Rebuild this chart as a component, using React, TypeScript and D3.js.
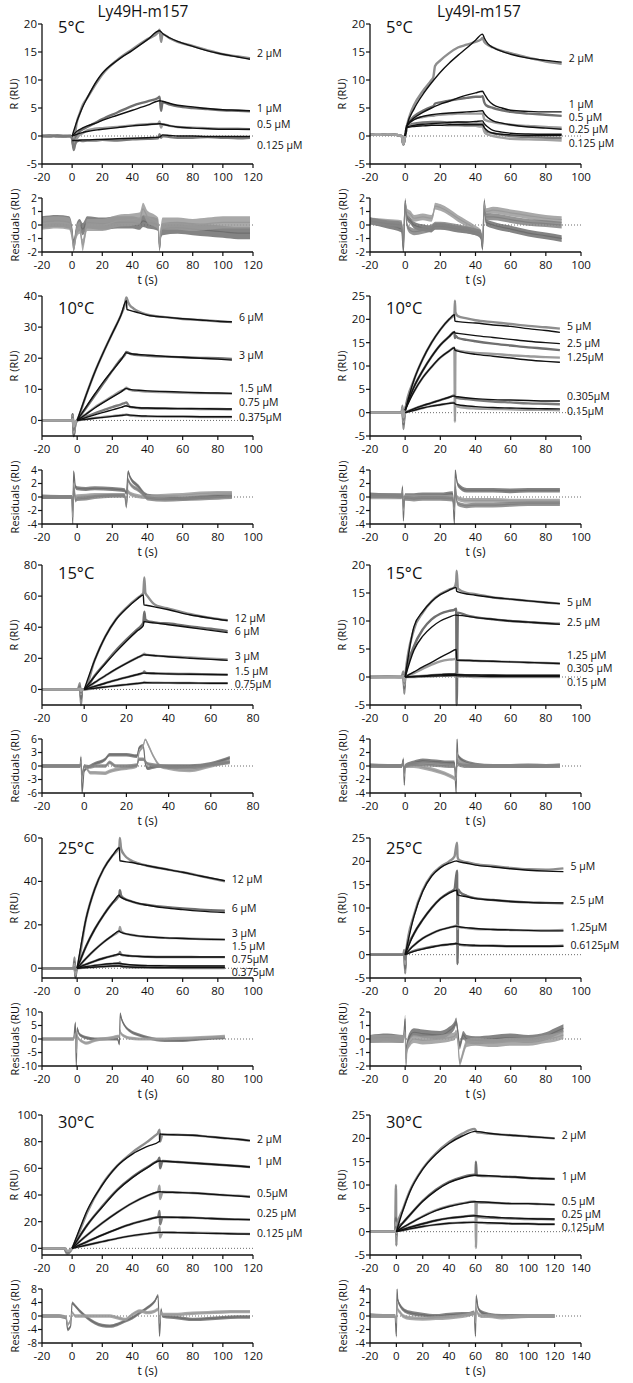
import React from 'react';
import * as d3 from 'd3';

const FONT = "'Open Sans', 'Liberation Sans', sans-serif";

// ---------- tick labels ----------
const X_TICKS_120 = [-20, 0, 20, 40, 60, 80, 100, 120];
const X_TICKS_100 = [-20, 0, 20, 40, 60, 80, 100];
const X_TICKS_80 = [-20, 0, 20, 40, 60, 80];
const X_TICKS_140 = [-20, 0, 20, 40, 60, 80, 100, 120, 140];
const Y_TICKS_20 = [-5, 0, 5, 10, 15, 20];
const Y_TICKS_25 = [-5, 0, 5, 10, 15, 20, 25];
const Y_TICKS_40 = [0, 10, 20, 30, 40];
const Y_TICKS_80 = [0, 20, 40, 60, 80];
const Y_TICKS_60 = [0, 20, 40, 60];
const Y_TICKS_100 = [0, 20, 40, 60, 80, 100];
const R_TICKS_2 = [-2, -1, 0, 1, 2];
const R_TICKS_4 = [-4, -2, 0, 2, 4];
const R_TICKS_6 = [-6, -3, 0, 3, 6];
const R_TICKS_10 = [-10, -5, 0, 5, 10];
const R_TICKS_8 = [-8, -4, 0, 4, 8];

const TITLES = ['Ly49H-m157', 'Ly49I-m157'];
const TEMPS = ['5°C', '10°C', '15°C', '25°C', '30°C'];

// ---------- Ly49H 5°C ----------
const A1_FIT_T = [0, 3, 6.7, 10, 16.7, 20, 30, 40, 50, 58, 60, 65, 70, 80, 90, 100, 110, 118];
const A1_FIT_2 = [0, 2.5, 5, 6.8, 10, 11.2, 13.5, 15.3, 17.2, 18.8, 18.3, 17.5, 16.9, 16.0, 15.2, 14.6, 14.1, 13.7];
const A1_FIT_1 = [0, 0.8, 1.4, 1.8, 2.4, 2.8, 3.7, 4.6, 5.5, 6.3, 6.2, 5.8, 5.5, 5.2, 4.9, 4.7, 4.6, 4.5];
const A1_FIT_05 = [0, 0.3, 0.6, 0.8, 1.1, 1.2, 1.5, 1.8, 2.0, 2.2, 2.1, 1.8, 1.6, 1.4, 1.3, 1.2, 1.2, 1.2];
const A1_FIT_0125 = [-0.8, -0.8, -0.7, -0.7, -0.6, -0.6, -0.5, -0.4, -0.3, -0.2, 0.2, 0.1, 0, 0, -0.1, -0.1, -0.1, -0.1];
const A1_DATA_T = [-20, -15, -10, -5, -1, 0, 1, 2, 3, 5, 7, 10, 15, 20, 30, 40, 50, 57, 58, 59, 60, 65, 70, 80, 90, 100, 110, 118];
const A1_DATA_2 = [0, 0.1, -0.1, 0, 0, -0.3, -1.5, 0.5, 2.3, 4, 5.5, 6.8, 9, 11, 13.6, 15.5, 17.3, 18.5, 19, 16.8, 18.2, 17.4, 16.8, 16.1, 15.3, 14.6, 14.2, 13.9];
const A1_DATA_1 = [0, 0.1, 0, -0.1, 0, -0.5, -2, -1, 0, 0.8, 1.2, 1.6, 2.3, 3.0, 4.2, 5.4, 6.2, 6.8, 7.0, 4.5, 6.0, 5.6, 5.3, 5.0, 4.8, 4.6, 4.5, 4.4];
const A1_DATA_05 = [0, 0, 0.1, 0, 0, -0.3, -1.8, -1, -0.5, 0.2, 0.5, 1, 1.3, 1.4, 1.6, 1.9, 2.1, 2.2, 2.6, 1.5, 2.1, 1.8, 1.6, 1.5, 1.4, 1.3, 1.3, 1.2];
const A1_DATA_0125 = [0, -0.1, 0.1, 0, 0, -0.5, -2.5, -1.5, -1, -0.8, -0.9, -0.8, -0.8, -0.7, -0.8, -0.6, -0.5, -0.4, 0.3, -0.3, 0, -0.2, -0.3, -0.3, -0.2, -0.3, -0.4, -0.3];
const A1_RES_T = [-20, -10, -2, 0, 1, 3, 5, 7, 10, 20, 30, 40, 45, 47, 50, 55, 57, 58, 59, 60, 70, 80, 90, 100, 110, 118];
const A1_RES_A = [0.2, 0.3, 0.2, -0.5, -1.5, -0.3, 0, -0.3, 0.2, 0.1, 0.2, 0.2, 0.1, 0.3, 0.2, 0.1, 0, -1.8, -0.5, -0.3, -0.2, -0.3, -0.4, -0.5, -0.6, -0.6];
const A1_RES_B = [0.1, 0.2, 0.1, -0.8, -1.8, -0.5, -0.2, -1.5, 0, 0, 0.3, 0.4, 0.5, 1.2, 0.6, 0.3, 0.1, -1.5, -0.4, 0.1, 0.1, 0, 0.1, 0.2, 0.2, 0.2];
const A1_LABELS = ['2 µM', '1 µM', '0.5 µM', '0.125 µM'];
const A1_LABEL_Y = [14.8, 5.0, 2.0, -1.7];

// ---------- Ly49I 5°C ----------
const B1_FIT_T = [0, 1, 5, 10, 15, 20, 25, 30, 35, 40, 44, 45, 47, 50, 55, 60, 70, 80, 89];
const B1_FIT_2 = [0, 1.8, 4.8, 7.4, 9.5, 11.4, 13, 14.4, 15.7, 17.1, 18.2, 17.5, 16.5, 15.8, 15.1, 14.6, 13.9, 13.5, 13.2];
const B1_FIT_1 = [0, 1.8, 3.2, 4.2, 5, 5.7, 6.2, 6.8, 7.3, 7.7, 8.0, 7.5, 6.5, 5.6, 5.0, 4.6, 4.4, 4.3, 4.3];
const B1_FIT_05 = [0, 1.8, 2.9, 3.5, 3.8, 4.0, 4.1, 4.2, 4.3, 4.4, 4.5, 4.0, 3.3, 2.7, 2.3, 2.0, 1.6, 1.4, 1.2];
const B1_FIT_025 = [0, 1.6, 1.9, 2.1, 2.2, 2.3, 2.4, 2.5, 2.5, 2.6, 2.7, 2.2, 1.6, 1.0, 0.7, 0.5, 0.35, 0.3, 0.3];
const B1_FIT_0125 = [0, 1.5, 1.7, 1.8, 1.9, 1.9, 2.0, 2.0, 2.0, 2.0, 2.0, 1.5, 0.9, 0.5, 0.3, 0.2, 0.1, 0.1, 0.1];
const B1_DATA_T = [-20, -15, -10, -5, -2, -1, 0, 1, 3, 5, 10, 15, 16, 17, 20, 25, 30, 35, 40, 43, 44, 45, 46, 50, 55, 60, 70, 80, 89];
const B1_DATA_2 = [0.3, 0.2, 0.3, 0.2, 0, -1.5, 0, 1.8, 4, 5.5, 8, 10, 10.5, 12.5, 13.5, 14.8, 15.8, 16.3, 16.8, 17.2, 17.5, 16.8, 16.5, 15.8, 15.2, 14.8, 14, 13.3, 12.9];
const B1_DATA_1 = [0.3, 0.2, 0.3, 0.2, 0, -1.5, 0, 1.8, 2.8, 3.5, 4.5, 5.2, 5.3, 5.8, 6.0, 6.3, 6.6, 6.8, 7.0, 7.0, 7.1, 6.0, 5.5, 5.0, 4.6, 4.3, 4.0, 3.8, 3.6];
const B1_DATA_05 = [0.3, 0.2, 0.3, 0.2, 0, -1.5, 0, 1.8, 2.5, 3, 3.4, 3.6, 3.6, 3.7, 3.8, 3.9, 4.0, 4.0, 4.0, 4.0, 4.0, 3.0, 2.8, 2.5, 2.2, 2.0, 1.8, 1.6, 1.5];
const B1_DATA_025 = [0.3, 0.2, 0.3, 0.2, 0, -1.5, 0, 1.6, 2.0, 2.2, 2.4, 2.5, 2.5, 2.5, 2.5, 2.4, 2.4, 2.3, 2.2, 2.2, 2.2, 1.2, 0.8, 0.5, 0.2, 0, -0.2, -0.3, -0.4];
const B1_DATA_0125 = [0.3, 0.2, 0.3, 0.2, 0, -1.5, 0, 1.5, 1.8, 1.9, 2.0, 2.0, 2.0, 2.0, 2.0, 1.9, 1.9, 1.8, 1.8, 1.7, 1.7, 0.8, 0.4, 0, -0.3, -0.5, -0.6, -0.7, -0.8];
const B1_RES_T = [-20, -10, -2, -1, 0, 1, 3, 5, 10, 15, 16, 17, 20, 30, 40, 43, 44, 45, 46, 50, 60, 70, 80, 89];
const B1_RES_A = [0.3, 0, -0.3, -2, 1.8, 0.6, 0.3, 0, -0.2, -0.3, -0.2, -0.1, -0.1, -0.3, -0.5, -0.8, -1.8, 1.8, 0.2, 0, -0.3, -0.6, -0.8, -1.0];
const B1_RES_B = [0.3, 0.2, 0.1, -1, 1.5, 1.0, 0.8, 0.5, 0.6, 0.5, 0.8, 1.4, 1.3, 0.5, -0.3, -0.6, -1.2, 1.5, 1.0, 1.1, 0.9, 0.7, 0.5, 0.4];
const B1_RES_C = [0.3, 0.1, 0, -1.5, 1.5, 0, -0.4, -0.5, -0.4, -0.2, -0.1, 0, 0, -0.2, -0.5, -0.6, -1.5, 1.0, 0.6, 0.6, 0.4, 0.2, 0.1, 0];
const B1_LABELS = ['2 µM', '1 µM', '0.5 µM', '0.25 µM', '0.125 µM'];
const B1_LABEL_Y = [13.9, 5.6, 3.4, 1.2, -1.3];

// ---------- Ly49H 10°C ----------
const A2_FIT_T = [0, 5, 10, 15, 20, 25, 28, 28.3, 30, 35, 40, 50, 60, 70, 80, 88];
const A2_FIT_6 = [0, 8, 15.5, 22, 28, 34, 38.5, 35.7, 35.4, 34.6, 33.8, 33.2, 32.7, 32.3, 31.9, 31.7];
const A2_FIT_3 = [0, 4.3, 8.5, 12.5, 16, 19.5, 21.8, 21.7, 21.5, 21.2, 21.0, 20.6, 20.3, 20, 19.7, 19.4];
const A2_FIT_15 = [0, 2, 4, 5.8, 7.5, 9.2, 10.3, 10.2, 10, 9.7, 9.5, 9.3, 9.1, 8.9, 8.8, 8.7];
const A2_FIT_075 = [0, 0.9, 1.8, 2.6, 3.4, 4.2, 4.7, 4.6, 4.4, 4.1, 4.0, 3.9, 3.8, 3.8, 3.7, 3.7];
const A2_FIT_0375 = [0, 0.35, 0.7, 1.0, 1.3, 1.6, 1.8, 1.8, 1.7, 1.5, 1.4, 1.3, 1.3, 1.2, 1.2, 1.2];
const A2_DATA_T = [-20, -10, -4, -3, -2.5, -2, -1, 0, 5, 10, 15, 20, 25, 27, 28, 29, 30, 32, 35, 40, 50, 60, 70, 80, 88];
const A2_DATA_6 = [0, 0, 0, 0, 2, -5, -1, 0, 8, 15.5, 22, 28, 34, 37, 39.5, 38, 37, 36, 35, 34, 33.2, 32.6, 32.3, 31.9, 31.6];
const A2_DATA_3 = [0, 0, 0, 0, 2, -5, -1, 0, 4, 8, 12, 16, 19.8, 21, 22, 21.8, 21.5, 21.2, 21, 20.8, 20.5, 20.3, 20.1, 20, 19.8];
const A2_DATA_15 = [0, 0, 0, 0, 1.5, -4, -1, 0, 2, 4.2, 6, 7.8, 9.5, 10, 10.5, 10.2, 9.8, 9.6, 9.5, 9.3, 9.1, 8.9, 8.8, 8.7, 8.6];
const A2_DATA_075 = [0, 0, 0, 0, 1, -3, -0.5, 0, 1.2, 2.3, 3.3, 4.3, 5.2, 5.6, 5.8, 5.0, 4.4, 4.2, 4.0, 3.9, 3.8, 3.8, 3.7, 3.7, 3.6];
const A2_DATA_0375 = [0, 0, 0, 0, 0.5, -2, -0.5, 0, 0.4, 0.8, 1.1, 1.4, 1.7, 1.8, 1.9, 1.8, 1.6, 1.5, 1.4, 1.3, 1.2, 1.2, 1.1, 1.1, 1.1];
const A2_RES_T = [-20, -10, -3, -2.5, -2, -1, 0, 5, 10, 20, 27, 28, 29, 30, 35, 38, 40, 50, 60, 70, 80, 88];
const A2_RES_A = [0, 0, 0, -4, 3.8, 1.5, 1.3, 1.2, 1.3, 1.2, 1.0, 0.5, 3.8, 3, 1.5, 0.5, 0.2, 0, -0.2, 0, 0.2, 0.3];
const A2_RES_B = [0.1, 0, 0, -3, 2, 0, 0.1, 0.2, 0.3, 0.3, 0.3, -1, 0.8, 0.5, 0.1, 0, 0, 0.2, 0.3, 0.5, 0.6, 0.6];
const A2_RES_C = [0, 0, 0, -2, 1.5, -0.5, -0.3, -0.2, 0, 0.2, 0.2, -1.5, 2.5, 2, 1, 0.3, -0.2, -0.4, -0.3, -0.2, -0.1, 0];
const A2_LABELS = ['6 µM', '3 µM', '1.5 µM', '0.75 µM', '0.375µM'];
const A2_LABEL_Y = [33, 21, 10.2, 5.8, 1.0];

// ---------- Ly49I 10°C ----------
const B2_FIT_T = [0, 5, 10, 15, 20, 25, 28, 28.3, 30, 40, 50, 60, 70, 80, 88];
const B2_FIT_5 = [0.5, 7, 11.5, 15, 17.8, 20, 21, 19.6, 19.5, 19.2, 18.8, 18.5, 18.0, 17.6, 17.2];
const B2_FIT_25 = [0.5, 5.5, 9, 12, 14.5, 16.3, 17.3, 17.1, 17.0, 16.5, 16.1, 15.7, 15.3, 15.0, 14.8];
const B2_FIT_125 = [0.5, 4.5, 7.5, 9.8, 11.8, 13.2, 13.9, 13.4, 13.2, 12.5, 12.1, 11.7, 11.3, 11.0, 10.8];
const B2_FIT_0305 = [0, 0.8, 1.5, 2.1, 2.7, 3.3, 3.6, 3.5, 3.4, 3.0, 2.8, 2.7, 2.6, 2.5, 2.5];
const B2_FIT_015 = [0, 0.5, 1.0, 1.4, 1.7, 2.0, 2.1, 1.9, 1.7, 1.3, 1.1, 1.0, 0.9, 0.85, 0.8];
const B2_DATA_T = [-20, -10, -2, -1.5, -1, -0.5, 0, 5, 10, 15, 20, 25, 28, 28.3, 28.6, 30, 35, 40, 50, 60, 70, 80, 88];
const B2_DATA_5 = [0, 0, 0, 1.5, -3.5, -1, 0.5, 7, 11.5, 15, 17.8, 20, 21, 24, 21.5, 20.7, 20.2, 19.8, 19.4, 19.0, 18.6, 18.3, 18.0];
const B2_DATA_25 = [0, 0, 0, 1, -2.5, -1, 0.5, 5.5, 9, 12, 14.5, 16.3, 17.3, 16, 16.5, 16, 15.6, 15.3, 14.8, 14.4, 14, 13.7, 13.4];
const B2_DATA_125 = [0, 0, 0, 1, -2, -0.5, 0.5, 4.5, 7.5, 9.8, 11.8, 13.2, 14, -2, 13.5, 13.3, 13, 12.8, 12.6, 12.3, 12.1, 11.9, 11.8];
const B2_DATA_0305 = [0, 0, 0, 0.5, -1.5, -0.5, 0, 0.8, 1.5, 2.1, 2.7, 3.3, 3.7, 3.5, 3.3, 3.1, 2.9, 2.7, 2.4, 2.2, 2.0, 1.9, 1.8];
const B2_DATA_015 = [0, 0, 0, 0.5, -1, -0.5, 0, 0.5, 1.0, 1.4, 1.7, 2.0, 2.2, 1.9, 1.6, 1.3, 1.0, 0.9, 0.8, 0.7, 0.6, 0.6, 0.5];
const B2_RES_T = [-20, -10, -2, -1.5, -1, -0.5, 0, 5, 10, 20, 27, 28, 28.5, 29, 30, 35, 40, 50, 60, 70, 80, 88];
const B2_RES_A = [0.3, 0.2, 0.2, 1.5, -3.5, -0.5, 0.2, 0.2, 0.3, 0.3, 0.5, -4, 4, 3, 1.8, 1.0, 1.0, 1.0, 0.9, 1.0, 1.0, 1.0];
const B2_RES_B = [0, 0, 0, 0.8, -2, -0.5, 0, 0, 0, 0, 0, -2, 2, 0.5, -0.2, -0.5, -0.5, -0.5, -0.6, -0.6, -0.6, -0.6];
const B2_RES_C = [0.2, 0.2, 0.1, 0.5, -1.5, -0.5, -0.2, -0.3, -0.2, -0.2, -0.3, -1.5, 1.5, 0, -1, -1.3, -1.2, -1.2, -1.1, -1.0, -1.0, -1.0];
const B2_LABELS = ['5 µM', '2.5 µM', '1.25µM', '0.305µM', '0.15µM'];
const B2_LABEL_Y = [18.4, 14.8, 11.9, 3.4, 0.3];

// ---------- Ly49H 15°C ----------
const A3_FIT_T = [0, 5, 10, 15, 20, 25, 28, 28.3, 30, 35, 40, 50, 60, 68];
const A3_FIT_12 = [0, 19, 34, 44.8, 52, 58, 60.8, 54.4, 54, 52.6, 51.2, 48, 45.8, 44.3];
const A3_FIT_6 = [0, 8.5, 16.5, 24, 31, 37.5, 41, 43.7, 43.3, 42.5, 41.6, 39.8, 38, 36.5];
const A3_FIT_3 = [0, 4.5, 8.8, 13, 16.8, 20.3, 22.2, 22.3, 22.1, 21.6, 21, 20.1, 19.3, 18.7];
const A3_FIT_15 = [0, 2, 4, 6, 7.8, 9.5, 10.5, 10.5, 10.4, 10.2, 10, 9.8, 9.6, 9.4];
const A3_FIT_075 = [0, 0.8, 1.6, 2.4, 3.1, 3.8, 4.3, 4.3, 4.3, 4.2, 4.2, 4.1, 4.0, 4.0];
const A3_DATA_T = [-20, -10, -3, -2, -1.5, -1, 0, 5, 10, 15, 20, 25, 27, 28, 28.5, 29, 30, 33, 35, 40, 50, 60, 68];
const A3_DATA_12 = [0, 0, 0, 4, -10, 0, 0, 19, 34, 45, 52.5, 58.5, 60.5, 62, 72, 62, 60, 55, 53.5, 52, 48.5, 46, 44.5];
const A3_DATA_6 = [0, 0, 0, 2, -6, 0, 0, 9, 17, 25, 32, 38.5, 41, 43, 50, 45, 44, 43.2, 42.8, 42.5, 40.5, 39, 37.5];
const A3_DATA_3 = [0, 0, 0, 1, -3, 0, 0, 4.5, 8.8, 13, 16.8, 20.3, 21.5, 22.5, 23, 22.5, 22.2, 21.8, 21.6, 21.2, 20.5, 19.8, 19.3];
const A3_DATA_15 = [0, 0, 0, 1, -2, 0, 0, 2, 4, 6, 7.8, 9.5, 10.2, 10.8, 11.5, 10.8, 10.5, 10.4, 10.3, 10.1, 9.9, 9.7, 9.5];
const A3_DATA_075 = [0, 0, 0, 0.5, -1, 0, 0, 0.8, 1.6, 2.4, 3.1, 3.8, 4.1, 4.4, 4.8, 4.5, 4.4, 4.3, 4.3, 4.2, 4.1, 4.0, 4.0];
const A3_RES_T = [-20, -10, -2, -1.5, -1, 0, 3, 5, 10, 12, 15, 20, 25, 26, 28, 29, 30, 33, 36, 40, 50, 60, 69];
const A3_RES_A = [0, 0, 0, 2, -6, -1, 0, 0.5, 1.5, 2.5, 2.5, 2.5, 2.2, 4, 4.5, 0.5, -0.5, -0.2, 0, 0, 0, 0.5, 1.8];
const A3_RES_B = [0, 0, 0, 1, -3, 0, -1.5, -1.5, -1.6, -1.2, -0.8, -0.5, 0, 3, 4.5, 6, 5, 2, 0, -0.5, -1, 0, 1];
const A3_RES_C = [0, 0, 0, 0.5, -2, 0, -0.2, 0, 0, 0.8, 0, 0, 0.2, 1.5, 1.5, 1, 0.5, 0.2, 0, -0.2, -0.3, 0.3, 0.8];
const A3_LABELS = ['12 µM', '6 µM', '3 µM', '1.5 µM', '0.75µM'];
const A3_LABEL_Y = [45.8, 37.3, 21, 11.7, 3.6];

// ---------- Ly49I 15°C ----------
const B3_FIT_T = [0, 5, 10, 15, 20, 25, 29, 29.3, 30, 40, 50, 60, 70, 80, 88];
const B3_FIT_5 = [0, 9.0, 11.7, 13.5, 14.7, 15.5, 16, 15.3, 15.2, 14.6, 14.2, 13.9, 13.6, 13.3, 13.1];
const B3_FIT_25 = [0, 4.8, 7.3, 8.9, 10, 10.7, 11.1, 11.0, 11.0, 10.6, 10.3, 10, 9.8, 9.6, 9.4];
const B3_FIT_125 = [0, 0.9, 1.8, 2.6, 3.5, 4.3, 4.9, 3.0, 3.0, 2.9, 2.8, 2.7, 2.6, 2.5, 2.4];
const B3_FIT_0305 = [0, 0.1, 0.2, 0.3, 0.4, 0.5, 0.5, 0.4, 0.4, 0.35, 0.3, 0.3, 0.3, 0.3, 0.3];
const B3_FIT_015 = [0, 0.05, 0.1, 0.15, 0.2, 0.25, 0.3, 0.2, 0.2, 0.15, 0.1, 0.1, 0.1, 0.1, 0.1];
const B3_DATA_T = [-20, -10, -2, -1, -0.5, 0, 5, 10, 15, 20, 25, 28, 29, 29.3, 30, 35, 40, 50, 60, 70, 80, 88];
const B3_DATA_5 = [0, 0.1, 0, 1, -3, 0, 8.5, 11.5, 13.5, 14.8, 15.6, 16, 17, 19, 15.8, 15, 14.8, 14.2, 13.9, 13.6, 13.3, 13.1];
const B3_DATA_25 = [0, 0, 0, 0.5, -2, 0, 5.5, 8.5, 10.3, 11.3, 11.8, 12, 12.2, -5, 11.5, 11, 10.7, 10.3, 10, 9.8, 9.6, 9.5];
const B3_DATA_125 = [0, 0, 0, 0.5, -1.5, 0, 0.7, 1.5, 2.2, 2.8, 3.1, 3.2, 3.3, 3.1, 3.0, 3.0, 2.9, 2.8, 2.7, 2.6, 2.5, 2.4];
const B3_DATA_0305 = [0, 0, 0, 0.3, -1, 0, 0.1, 0.2, 0.3, 0.4, 0.5, 0.5, 0.6, 0.4, 0.4, 0.3, 0.3, 0.3, 0.2, 0.2, 0.2, 0.2];
const B3_DATA_015 = [-0.1, 0, 0, 0.2, -0.8, 0, 0, 0.1, 0.1, 0.2, 0.2, 0.3, 0.3, 0.2, 0.1, 0.1, 0, 0, 0, 0, 0, 0];
const B3_RES_T = [-20, -10, -2, -1, -0.5, 0, 5, 10, 15, 20, 25, 28, 29, 29.5, 30, 35, 40, 50, 60, 70, 80, 88];
const B3_RES_A = [0, 0, 0, 1, -2.8, 0, 0.5, 0.8, 0.7, 0.6, 0.5, 0.5, -4, 4, 1.5, 0.5, 0.2, 0, 0, 0, 0, 0];
const B3_RES_B = [0, 0, 0, 0.5, -1.5, 0, 0, -0.2, -0.5, -0.9, -1.4, -1.8, -2, 2, 0.8, 0.2, 0, 0, 0, 0.1, 0, 0];
const B3_RES_C = [0.1, 0, 0, 0.5, -1, 0, 0.3, 0.3, 0.2, 0.1, 0, 0, -1, 1, 0.3, 0, 0, 0, 0, 0, 0, 0.1];
const B3_LABELS = ['5 µM', '2.5 µM', '1.25 µM', '0.305 µM', '0.15 µM'];
const B3_LABEL_Y = [13.4, 9.7, 3.9, 1.5, -0.9];

// ---------- Ly49H 25°C ----------
const A4_FIT_T = [0, 5, 10, 15, 20, 24, 24.3, 30, 40, 50, 60, 70, 84];
const A4_FIT_12 = [0, 22.6, 36.5, 45.7, 51.8, 55.5, 49.5, 48.8, 47.2, 45.7, 44.2, 42.5, 40.3];
const A4_FIT_6 = [0, 10, 18, 24.5, 30, 33.7, 33, 31, 29, 27.8, 27, 26.3, 25.6];
const A4_FIT_3 = [0, 4.5, 8.5, 12, 15, 17.2, 16.8, 15.5, 14.5, 14, 13.7, 13.4, 13.2];
const A4_FIT_15 = [0, 1.8, 3.3, 4.6, 5.7, 6.5, 6.4, 5.7, 5.3, 5.2, 5.2, 5.2, 5.2];
const A4_FIT_075 = [0, 0.7, 1.3, 1.8, 2.1, 2.3, 2.2, 1.6, 1.2, 1.1, 1.0, 1.0, 1.0];
const A4_FIT_0375 = [0, 0.3, 0.6, 0.8, 1.0, 1.1, 1.0, 0.6, 0.4, 0.3, 0.3, 0.3, 0.3];
const A4_DATA_T = [-20, -10, -2, -1.5, -1, -0.5, 0, 5, 10, 15, 20, 23, 24, 24.3, 25, 27, 30, 35, 40, 50, 60, 70, 84];
const A4_DATA_12 = [0, 0, 0, 5, -5, -1, 0, 22.6, 36.5, 45.7, 51.8, 54.5, 56, 60, 55, 52, 50, 48.3, 47.2, 45.7, 44.2, 42.5, 40];
const A4_DATA_6 = [0, 0, 0, 3, -4, -1, 0, 10, 18, 24.5, 30, 32.5, 34, 36, 33.5, 32, 31, 29.8, 29.2, 28.2, 27.5, 27, 26.5];
const A4_DATA_3 = [0, 0, 0, 2, -3, -0.5, 0, 4.5, 8.5, 12, 15, 16.5, 17.5, 19, 17, 16, 15.5, 14.8, 14.5, 14, 13.8, 13.5, 13.3];
const A4_DATA_15 = [0, 0, 0, 1, -2, -0.5, 0, 1.8, 3.3, 4.6, 5.7, 6.3, 6.8, 7.5, 6.3, 5.9, 5.7, 5.5, 5.3, 5.2, 5.2, 5.1, 5.1];
const A4_DATA_075 = [0, 0, 0, 1, -2, -0.5, 0, 0.7, 1.3, 1.8, 2.1, 2.3, 2.5, 2.8, 2.0, 1.6, 1.4, 1.2, 1.1, 1.0, 0.9, 0.9, 0.8];
const A4_DATA_0375 = [0, 0, 0, 0.5, -1, -0.3, 0, 0.3, 0.6, 0.8, 1.0, 1.1, 1.2, 1.3, 0.8, 0.5, 0.4, 0.3, 0.2, 0.2, 0.1, 0.1, 0.1];
const A4_RES_T = [-20, -10, -2, -1, -0.5, 0, 1, 3, 5, 10, 20, 23, 24, 24.5, 25, 27, 30, 35, 40, 50, 60, 70, 84];
const A4_RES_A = [0, 0, 0, 6, -10, 4, 2, 1, 0.5, 0, 0, 0, -2, 9.5, 8, 5, 3, 1.5, 0.5, -0.5, -0.5, 0, 0.5];
const A4_RES_B = [0, 0, 0, 2, -5, 1, 0, -1, -1.5, -0.5, 0.5, 1, 1, 3, 2, 1, 0.3, 0, 0, 0, 0.2, 0.5, 1];
const A4_LABELS = ['12 µM', '6 µM', '3 µM', '1.5 µM', '0.75µM', '0.375µM'];
const A4_LABEL_Y = [41, 27.5, 16.0, 10.1, 4.3, -1.8];

// ---------- Ly49I 25°C ----------
const B4_FIT_T = [0, 5, 10, 15, 20, 25, 29.5, 29.8, 35, 40, 50, 60, 70, 80, 90];
const B4_FIT_5 = [0, 8.2, 13.6, 16.8, 18.6, 19.6, 20.1, 20.0, 19.6, 19.2, 18.8, 18.4, 18.1, 17.9, 17.8];
const B4_FIT_25 = [0, 4.5, 7.5, 10, 12, 13.2, 13.8, 12.8, 12.4, 12, 11.7, 11.4, 11.2, 11.1, 11.1];
const B4_FIT_125 = [0, 2, 3.5, 4.5, 5.3, 5.8, 6.1, 6.0, 5.8, 5.6, 5.4, 5.3, 5.2, 5.1, 5.1];
const B4_FIT_06 = [0, 0.7, 1.2, 1.6, 2.0, 2.2, 2.4, 2.3, 2.1, 2.0, 1.9, 1.8, 1.8, 1.8, 1.8];
const B4_DATA_T = [-20, -10, -1, -0.5, 0, 0.5, 5, 10, 15, 20, 25, 28, 29.5, 29.8, 30.2, 31, 35, 40, 50, 60, 70, 80, 90];
const B4_DATA_5 = [0, 0, 0, 1, -4, 0.5, 8.5, 13.8, 17, 18.8, 20, 21, 24, 21, 20.5, 20.2, 19.8, 19.4, 19, 18.6, 18.3, 18.2, 18.5];
const B4_DATA_25 = [0, 0, 0, 0.5, -3, 0.3, 4.5, 7.5, 10, 12, 13.3, 14, 18, -2, 14, 13.5, 12.6, 12.1, 11.7, 11.4, 11.2, 11.1, 11];
const B4_DATA_125 = [0, 0, 0, 0.5, -2, 0.2, 2, 3.5, 4.5, 5.3, 5.8, 6.1, 6.3, 5.5, 6, 5.9, 5.7, 5.5, 5.4, 5.3, 5.2, 5.2, 5.3];
const B4_DATA_06 = [0, 0, 0, 0.3, -1, 0.1, 0.8, 1.3, 1.7, 2.0, 2.2, 2.3, 2.5, 2, 2.2, 2.1, 2.0, 1.9, 1.9, 1.8, 1.8, 1.8, 1.9];
const B4_RES_T = [-20, -10, -1, 0, 0.5, 1, 3, 5, 10, 20, 25, 28, 29, 30, 31, 33, 35, 40, 50, 60, 70, 80, 85, 90];
const B4_RES_A = [0, 0.1, 0, 1.5, -1.5, -0.5, 0.3, 0.5, 0.4, 0.3, 0.6, 1, 1.3, 0.5, -0.5, 0.3, 0, -0.1, 0, 0.1, 0, 0.2, 0.5, 0.8];
const B4_RES_B = [0, 0, 0, 0.5, -2, -0.8, -0.2, 0, -0.1, 0, 0.1, 0.2, 0.4, -0.2, -1.8, -1, -0.3, -0.2, -0.3, -0.2, -0.2, 0, 0.1, 0.3];
const B4_LABELS = ['5 µM', '2.5 µM', '1.25µM', '0.6125µM'];
const B4_LABEL_Y = [19, 11.6, 5.9, 2.1];

// ---------- Ly49H 30°C ----------
const A5_FIT_T = [0, 5, 10, 20, 30, 40, 50, 58, 58.3, 60, 70, 80, 90, 100, 110, 118];
const A5_FIT_2 = [0, 14.6, 28.5, 47.5, 61.9, 70.7, 76.5, 80.3, 85.8, 85.5, 85.1, 84.8, 83.8, 82.8, 81.8, 80.8];
const A5_FIT_1 = [0, 9, 17.5, 31, 43.5, 53, 60.5, 65.5, 65.5, 65.4, 64.7, 64, 63.2, 62.5, 61.7, 61];
const A5_FIT_05 = [0, 5.2, 10, 19, 27, 34, 39.5, 42.4, 42.4, 42.3, 41.9, 41.5, 40.8, 40, 39.2, 38.5];
const A5_FIT_025 = [0, 2.5, 5, 10, 14.5, 18.5, 21.5, 23.5, 23.5, 23.4, 23.2, 23, 22.5, 22, 21.7, 21.5];
const A5_FIT_0125 = [0, 1.3, 2.5, 5, 7.5, 9.5, 11, 12, 12, 12, 11.8, 11.5, 11.2, 11, 10.8, 10.7];
const A5_DATA_T = [-20, -10, -5, -4, -3, -1, 0, 5, 10, 20, 30, 40, 50, 55, 57, 58, 58.3, 60, 70, 80, 90, 100, 110, 118];
const A5_DATA_2 = [0, 0, 0, -3, -4, -2, 0, 13, 27, 48, 62, 72, 80, 84.5, 86.5, 89, 80, 85.5, 85.2, 84.8, 83.8, 82.8, 81.8, 80.8];
const A5_DATA_1 = [0, 0, 0, -2, -3, -1, 0, 9, 17.5, 31.5, 44, 53.5, 61, 64.5, 66, 68, 60, 65.5, 64.7, 64, 63.2, 62.5, 61.7, 61];
const A5_DATA_05 = [0, 0, 0, -2, -3, -1, 0, 5.2, 10, 19, 27, 34, 39.5, 41.5, 42.5, 47, 37, 42.3, 41.9, 41.5, 40.8, 40, 39.5, 39];
const A5_DATA_025 = [0, 0, 0, -2, -3, -1, 0, 2.5, 5, 10, 14.5, 18.5, 21.5, 23, 23.5, 28, 18, 23.4, 23.2, 23, 22.5, 22, 21.7, 21.5];
const A5_DATA_0125 = [0, 0, 0, -1, -2, -1, 0, 1.3, 2.5, 5, 7.5, 9.5, 11, 11.8, 12, 16, 8, 12, 11.8, 11.7, 11.5, 11.3, 11, 10.8];
const A5_RES_T = [-20, -10, -4, -3, -1, 0, 2, 5, 10, 15, 20, 25, 30, 35, 40, 45, 50, 55, 57, 58, 59, 60, 70, 80, 90, 100, 110, 118];
const A5_RES_A = [0, 0, -0.5, -4, -3, 3.8, 3, 1.5, -0.5, -2, -2.8, -3, -2.5, -1.5, -0.5, 1, 2.5, 4.5, 6, -6, 2, 0, -0.5, -1, -0.8, -0.5, -0.3, -0.3];
const A5_RES_B = [0, 0, -0.3, -2.5, -1, 1, 0, 0, 0, 0, 0, 0, -0.5, -1, 0.5, 1.5, 1, 1.5, 2, -2, 1, 0.5, 0.5, 0.8, 1, 1.2, 1.3, 1.3];
const A5_LABELS = ['2 µM', '1 µM', '0.5µM', '0.25 µM', '0.125 µM'];
const A5_LABEL_Y = [82, 65, 41, 26, 11.6];

// ---------- Ly49I 30°C ----------
const B5_FIT_T = [0, 5, 10, 20, 30, 40, 50, 60, 70, 80, 90, 100, 110, 120];
const B5_FIT_2 = [0, 4.6, 8.4, 13.4, 16.6, 18.9, 20.5, 21.5, 21.1, 20.8, 20.6, 20.4, 20.2, 20];
const B5_FIT_1 = [0, 1.9, 3.5, 6.5, 8.8, 10.5, 11.5, 12.1, 12, 11.8, 11.7, 11.5, 11.4, 11.3];
const B5_FIT_05 = [0, 0.9, 1.7, 3.2, 4.5, 5.4, 6, 6.4, 6.3, 6.1, 6.0, 6.0, 5.9, 5.8];
const B5_FIT_025 = [0, 0.5, 0.9, 1.7, 2.4, 2.9, 3.2, 3.4, 3.2, 3.0, 2.9, 2.8, 2.7, 2.7];
const B5_FIT_0125 = [0, 0.3, 0.6, 1.1, 1.5, 1.8, 1.9, 2.0, 1.9, 1.8, 1.7, 1.7, 1.6, 1.6];
const B5_DATA_T = [-20, -10, -1, -0.3, 0, 0.3, 5, 10, 20, 30, 40, 50, 59, 60, 60.3, 61, 65, 70, 80, 90, 100, 110, 120];
const B5_DATA_2 = [0, 0, 0, 10, -3, 1, 4.8, 8.6, 13.5, 16.8, 19.2, 21, 22, 21.8, 21.5, 21.3, 21.2, 21, 20.8, 20.6, 20.4, 20.2, 20];
const B5_DATA_1 = [0, 0, 0, 3, -1, 0.5, 1.9, 3.5, 6.6, 9, 10.7, 11.7, 12.2, 12.1, 15, 12, 11.9, 11.9, 11.8, 11.7, 11.5, 11.4, 11.3];
const B5_DATA_05 = [0, 0, 0, 2, -1, 0.3, 0.9, 1.7, 3.3, 4.6, 5.5, 6.1, 6.5, 6.4, -3.5, 6.3, 6.2, 6.2, 6.1, 6.0, 6.0, 5.9, 5.8];
const B5_DATA_025 = [0, 0, 0, 1, -0.5, 0.2, 0.5, 0.9, 1.7, 2.4, 2.9, 3.2, 3.5, 3.4, 3.3, 3.2, 3.1, 3.0, 2.9, 2.8, 2.7, 2.7, 2.6];
const B5_DATA_0125 = [0, 0, 0, 0.5, -0.3, 0.1, 0.3, 0.6, 1.1, 1.5, 1.8, 2.0, 2.1, 2.0, 2.0, 1.9, 1.9, 1.8, 1.8, 1.7, 1.7, 1.6, 1.6];
const B5_RES_T = [-20, -10, -1, 0, 0.5, 1, 3, 5, 10, 20, 30, 40, 50, 55, 59, 60, 60.5, 62, 65, 70, 80, 90, 100, 110, 120];
const B5_RES_A = [0.1, 0, 0, -3, 4, 2.5, 1.5, 1, 0.5, 0.2, 0, 0.2, 0.3, 0.3, 0.5, -3, 3, 1.2, 0.5, 0.2, 0, 0, 0, 0, 0];
const B5_RES_B = [0, 0, 0, -1, 2, 1, 0.5, 0, -0.3, -0.4, -0.3, -0.2, 0, 0.2, 0.4, -1, 1, 0.3, 0, 0, -0.2, -0.1, 0, 0, 0];
const B5_LABELS = ['2 µM', '1 µM', '0.5 µM', '0.25 µM', '0.125µM'];
const B5_LABEL_Y = [20.7, 11.9, 6.6, 3.8, 0.9];

// ---------- layout ----------
const COL_X0 = [42, 370];
const PLOT_W = 211;
const ROW_TOP = [24, 296, 565, 838, 1115];
const TEMP_DY = [3, 12, 8, 10, 7];
const MAIN_H = 140;
const RES_OFF = 174;
const RES_H = 54;
const DATA_COLORS = ['#8e8e8e', '#707070', '#9c9c9c', '#7a7a7a', '#a2a2a2', '#858585'];
const RES_COLORS = ['#6e6e6e', '#9a9a9a', '#828282'];

interface Panel {
  col: number; row: number;
  xDomain: [number, number]; xTicks: number[];
  yDomain: [number, number]; yTicks: number[];
  rDomain: [number, number]; rTicks: number[];
  fitT: number[]; fits: number[][];
  dataT: number[]; data: number[][];
  resT: number[]; res: number[][]; resHW: number;
  labels: string[]; labelY: number[];
}

const PANELS: Panel[] = [
  { col: 0, row: 0, xDomain: [-20, 120], xTicks: X_TICKS_120, yDomain: [-5, 20], yTicks: Y_TICKS_20, rDomain: [-2, 2], rTicks: R_TICKS_2,
    fitT: A1_FIT_T, fits: [A1_FIT_2, A1_FIT_1, A1_FIT_05, A1_FIT_0125],
    dataT: A1_DATA_T, data: [A1_DATA_2, A1_DATA_1, A1_DATA_05, A1_DATA_0125],
    resT: A1_RES_T, res: [A1_RES_A, A1_RES_B], resHW: 0.45, labels: A1_LABELS, labelY: A1_LABEL_Y },
  { col: 1, row: 0, xDomain: [-20, 100], xTicks: X_TICKS_100, yDomain: [-5, 20], yTicks: Y_TICKS_20, rDomain: [-2, 2], rTicks: R_TICKS_2,
    fitT: B1_FIT_T, fits: [B1_FIT_2, B1_FIT_1, B1_FIT_05, B1_FIT_025, B1_FIT_0125],
    dataT: B1_DATA_T, data: [B1_DATA_2, B1_DATA_1, B1_DATA_05, B1_DATA_025, B1_DATA_0125],
    resT: B1_RES_T, res: [B1_RES_A, B1_RES_B, B1_RES_C], resHW: 0.25, labels: B1_LABELS, labelY: B1_LABEL_Y },
  { col: 0, row: 1, xDomain: [-20, 100], xTicks: X_TICKS_100, yDomain: [-5, 40], yTicks: Y_TICKS_40, rDomain: [-4, 4], rTicks: R_TICKS_4,
    fitT: A2_FIT_T, fits: [A2_FIT_6, A2_FIT_3, A2_FIT_15, A2_FIT_075, A2_FIT_0375],
    dataT: A2_DATA_T, data: [A2_DATA_6, A2_DATA_3, A2_DATA_15, A2_DATA_075, A2_DATA_0375],
    resT: A2_RES_T, res: [A2_RES_A, A2_RES_B, A2_RES_C], resHW: 0.3, labels: A2_LABELS, labelY: A2_LABEL_Y },
  { col: 1, row: 1, xDomain: [-20, 100], xTicks: X_TICKS_100, yDomain: [-5, 25], yTicks: Y_TICKS_25, rDomain: [-4, 4], rTicks: R_TICKS_4,
    fitT: B2_FIT_T, fits: [B2_FIT_5, B2_FIT_25, B2_FIT_125, B2_FIT_0305, B2_FIT_015],
    dataT: B2_DATA_T, data: [B2_DATA_5, B2_DATA_25, B2_DATA_125, B2_DATA_0305, B2_DATA_015],
    resT: B2_RES_T, res: [B2_RES_A, B2_RES_B, B2_RES_C], resHW: 0.35, labels: B2_LABELS, labelY: B2_LABEL_Y },
  { col: 0, row: 2, xDomain: [-20, 80], xTicks: X_TICKS_80, yDomain: [-10, 80], yTicks: Y_TICKS_80, rDomain: [-6, 6], rTicks: R_TICKS_6,
    fitT: A3_FIT_T, fits: [A3_FIT_12, A3_FIT_6, A3_FIT_3, A3_FIT_15, A3_FIT_075],
    dataT: A3_DATA_T, data: [A3_DATA_12, A3_DATA_6, A3_DATA_3, A3_DATA_15, A3_DATA_075],
    resT: A3_RES_T, res: [A3_RES_A, A3_RES_B, A3_RES_C], resHW: 0.4, labels: A3_LABELS, labelY: A3_LABEL_Y },
  { col: 1, row: 2, xDomain: [-20, 100], xTicks: X_TICKS_100, yDomain: [-5, 20], yTicks: Y_TICKS_20, rDomain: [-4, 4], rTicks: R_TICKS_4,
    fitT: B3_FIT_T, fits: [B3_FIT_5, B3_FIT_25, B3_FIT_125, B3_FIT_0305, B3_FIT_015],
    dataT: B3_DATA_T, data: [B3_DATA_5, B3_DATA_25, B3_DATA_125, B3_DATA_0305, B3_DATA_015],
    resT: B3_RES_T, res: [B3_RES_A, B3_RES_B, B3_RES_C], resHW: 0.3, labels: B3_LABELS, labelY: B3_LABEL_Y },
  { col: 0, row: 3, xDomain: [-20, 100], xTicks: X_TICKS_100, yDomain: [-4.5, 60], yTicks: Y_TICKS_60, rDomain: [-10, 10], rTicks: R_TICKS_10,
    fitT: A4_FIT_T, fits: [A4_FIT_12, A4_FIT_6, A4_FIT_3, A4_FIT_15, A4_FIT_075, A4_FIT_0375],
    dataT: A4_DATA_T, data: [A4_DATA_12, A4_DATA_6, A4_DATA_3, A4_DATA_15, A4_DATA_075, A4_DATA_0375],
    resT: A4_RES_T, res: [A4_RES_A, A4_RES_B], resHW: 0.6, labels: A4_LABELS, labelY: A4_LABEL_Y },
  { col: 1, row: 3, xDomain: [-20, 100], xTicks: X_TICKS_100, yDomain: [-5, 25], yTicks: Y_TICKS_25, rDomain: [-2, 2], rTicks: R_TICKS_2,
    fitT: B4_FIT_T, fits: [B4_FIT_5, B4_FIT_25, B4_FIT_125, B4_FIT_06],
    dataT: B4_DATA_T, data: [B4_DATA_5, B4_DATA_25, B4_DATA_125, B4_DATA_06],
    resT: B4_RES_T, res: [B4_RES_A, B4_RES_B], resHW: 0.3, labels: B4_LABELS, labelY: B4_LABEL_Y },
  { col: 0, row: 4, xDomain: [-20, 120], xTicks: X_TICKS_120, yDomain: [-5, 100], yTicks: Y_TICKS_100, rDomain: [-8, 8], rTicks: R_TICKS_8,
    fitT: A5_FIT_T, fits: [A5_FIT_2, A5_FIT_1, A5_FIT_05, A5_FIT_025, A5_FIT_0125],
    dataT: A5_DATA_T, data: [A5_DATA_2, A5_DATA_1, A5_DATA_05, A5_DATA_025, A5_DATA_0125],
    resT: A5_RES_T, res: [A5_RES_A, A5_RES_B], resHW: 0.5, labels: A5_LABELS, labelY: A5_LABEL_Y },
  { col: 1, row: 4, xDomain: [-20, 140], xTicks: X_TICKS_140, yDomain: [-5, 25], yTicks: Y_TICKS_25, rDomain: [-4, 4], rTicks: R_TICKS_4,
    fitT: B5_FIT_T, fits: [B5_FIT_2, B5_FIT_1, B5_FIT_05, B5_FIT_025, B5_FIT_0125],
    dataT: B5_DATA_T, data: [B5_DATA_2, B5_DATA_1, B5_DATA_05, B5_DATA_025, B5_DATA_0125],
    resT: B5_RES_T, res: [B5_RES_A, B5_RES_B], resHW: 0.3, labels: B5_LABELS, labelY: B5_LABEL_Y },
];

function Axes({ x, y, ticksX, ticksY, bottom, top, left, right, fs }: any) {
  return (
    <g fontFamily={FONT} fontSize={fs} fill="#111">
      <line x1={left} x2={left} y1={top} y2={bottom} stroke="#111" strokeWidth={1.3} />
      <line x1={left} x2={right} y1={bottom} y2={bottom} stroke="#111" strokeWidth={1.3} />
      {ticksY.map((v: number) => (
        <g key={'y' + v}>
          <line x1={left - 4} x2={left} y1={y(v)} y2={y(v)} stroke="#111" strokeWidth={1.2} />
          <text x={left - 5} y={y(v)} dy="0.35em" textAnchor="end">{v}</text>
        </g>
      ))}
      {ticksX.map((v: number) => (
        <g key={'x' + v}>
          <line x1={x(v)} x2={x(v)} y1={bottom} y2={bottom + 4} stroke="#111" strokeWidth={1.2} />
          <text x={x(v)} y={bottom + 13} dy="0.35em" textAnchor="middle" fontSize={11.5}>{v}</text>
        </g>
      ))}
    </g>
  );
}

function PanelView({ p }: { p: Panel }) {
  const x0 = COL_X0[p.col];
  const top = ROW_TOP[p.row];
  const bottom = top + MAIN_H;
  const rTop = top + RES_OFF;
  const rBot = rTop + RES_H;
  const x = d3.scaleLinear().domain(p.xDomain).range([x0, x0 + PLOT_W]);
  const y = d3.scaleLinear().domain(p.yDomain).range([bottom, top]).clamp(true);
  const yr = d3.scaleLinear().domain(p.rDomain).range([rBot, rTop]).clamp(true);

  const mkLine = (t: number[]) =>
    d3.line<number>().x((_, i) => x(t[i])).y((d) => y(d)).curve(d3.curveMonotoneX);
  const fitLine = mkLine(p.fitT);
  const dataLine = mkLine(p.dataT);
  const resArea = d3.area<number>()
    .x((_, i) => x(p.resT[i]))
    .y0((d) => yr(d - p.resHW))
    .y1((d) => yr(d + p.resHW))
    .curve(d3.curveMonotoneX);
  const resLine = d3.line<number>().x((_, i) => x(p.resT[i])).y((d) => yr(d)).curve(d3.curveMonotoneX);

  const tEnd = p.fitT[p.fitT.length - 1];
  const labelX = x(tEnd) + 7;
  const yLabelX = x0 - 28;

  return (
    <g>
      {/* main plot */}
      <line x1={x0} x2={x0 + PLOT_W} y1={y(0)} y2={y(0)} stroke="#444" strokeWidth={0.8} strokeDasharray="1,2" />
      {p.data.map((s, i) => (
        <path key={'d' + i} d={dataLine(s) || ''} fill="none" stroke={DATA_COLORS[i % DATA_COLORS.length]} strokeWidth={2.4} strokeLinejoin="round" />
      ))}
      {p.fits.map((s, i) => (
        <path key={'f' + i} d={fitLine(s) || ''} fill="none" stroke="#111" strokeWidth={1.4} strokeLinejoin="round" />
      ))}
      <Axes x={x} y={y} ticksX={p.xTicks} ticksY={p.yTicks} bottom={bottom} top={top} left={x0} right={x0 + PLOT_W} fs={11.5} />
      <text x={x0 + 16} y={top + TEMP_DY[p.row] + 6} fontFamily={FONT} fontSize={16.5} fill="#111">{TEMPS[p.row]}</text>
      <text transform={`translate(${yLabelX},${(top + bottom) / 2}) rotate(-90)`} textAnchor="middle" dy="0.35em" fontFamily={FONT} fontSize={11} fill="#111">R (RU)</text>
      {p.labels.map((l, i) => (
        <text key={'l' + i} x={labelX} y={y(p.labelY[i])} dy="0.35em" fontFamily={FONT} fontSize={10.5} fill="#111">{l}</text>
      ))}

      {/* residual plot */}
      <line x1={x0} x2={x0 + PLOT_W} y1={yr(0)} y2={yr(0)} stroke="#444" strokeWidth={0.8} strokeDasharray="1,2" />
      {p.res.map((s, i) => (
        <g key={'r' + i}>
          <path d={resArea(s) || ''} fill={RES_COLORS[i % RES_COLORS.length]} opacity={0.85} />
          <path d={resLine(s) || ''} fill="none" stroke={RES_COLORS[i % RES_COLORS.length]} strokeWidth={1.2} />
        </g>
      ))}
      <Axes x={x} y={yr} ticksX={p.xTicks} ticksY={p.rTicks} bottom={rBot} top={rTop} left={x0} right={x0 + PLOT_W} fs={10.5} />
      <text transform={`translate(${yLabelX + 1},${(rTop + rBot) / 2}) rotate(-90)`} textAnchor="middle" dy="0.35em" fontFamily={FONT} fontSize={11} fill="#111">Residuals (RU)</text>
      <text x={x0 + PLOT_W / 2} y={rBot + 28} dy="0.35em" textAnchor="middle" fontFamily={FONT} fontSize={12} fill="#111">t (s)</text>
    </g>
  );
}

export default function App() {
  return (
    <svg width={633} height={1383} style={{ position: 'absolute', left: 0, top: 0, background: '#fff' }}>
      <rect width={633} height={1383} fill="#fff" />
      <text x={143} y={17} textAnchor="middle" fontFamily={FONT} fontSize={15.5} fill="#111">{TITLES[0]}</text>
      <text x={479} y={17} textAnchor="middle" fontFamily={FONT} fontSize={15.5} fill="#111">{TITLES[1]}</text>
      {PANELS.map((p, i) => <PanelView key={i} p={p} />)}
    </svg>
  );
}
